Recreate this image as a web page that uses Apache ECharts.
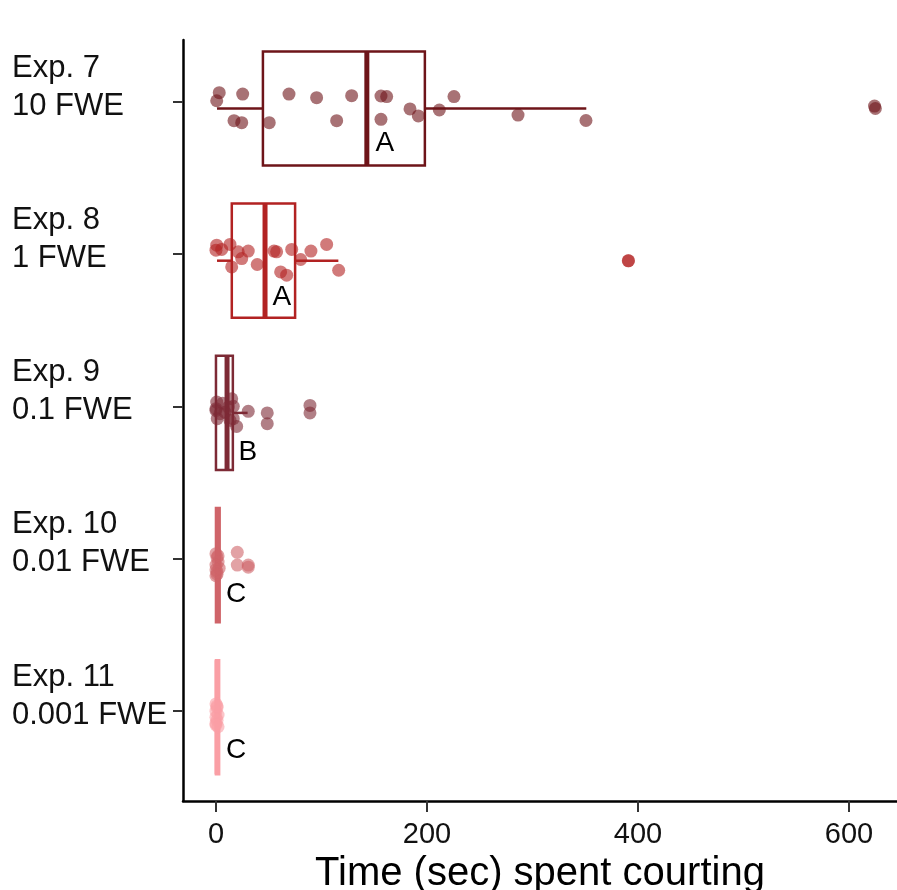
<!DOCTYPE html>
<html>
<head>
<meta charset="utf-8">
<script src="https://cdn.jsdelivr.net/npm/echarts@6/dist/echarts.min.js"></script>
<style>
html,body{margin:0;padding:0;background:#fff;}
#chart{width:897px;height:890px;}
</style>
</head>
<body>
<div id="chart"></div>
<script>
// Categories (top to bottom)
const categories = ['Exp. 7\n10 FWE', 'Exp. 8\n1 FWE', 'Exp. 9\n0.1 FWE', 'Exp. 10\n0.01 FWE', 'Exp. 11\n0.001 FWE'];
const groupColors = ['#6e1419', '#b22222', '#7d2a35', '#cf6469', '#fa9fa5'];

// Box statistics (seconds)
const whiskerLow  = [1, 1, 0, 0, 0];
const quart1      = [44.5, 15, 0, 0, 0];
const medians     = [143, 46.5, 10.5, 1.5, 1];
const quart3      = [198, 75, 16, 3.5, 3];
const whiskerHigh = [351, 116, 30, 3.5, 3];
const outliers    = [[625], [391], [48.6, 89.1], [20.2, 30.6], []];

// Individual observations (time) and their vertical jitter (category units)
const exp7Time   = [3.1, 0.7, 25.3, 17.1, 24.4, 50.5, 69.2, 95.4, 114.4, 128.6, 156.4, 161.8, 156.4, 183.9, 191.8, 211.7, 225.6, 286.3, 350.7, 624.2];
const exp7Jitter = [-0.104, -0.051, -0.095, 0.08, 0.093, 0.093, -0.095, -0.071, 0.08, -0.084, -0.082, -0.078, 0.071, 0.003, 0.049, 0.01, -0.078, 0.043, 0.079, -0.016];
const exp8Time   = [0.7, 0, 5.4, 13.3, 14.9, 21.1, 24.4, 30.6, 39.1, 55, 57.5, 61.3, 67, 71.8, 80.3, 90, 104.9, 116.3, 390.8];
const exp8Jitter = [-0.102, -0.069, -0.074, -0.107, 0.041, -0.058, -0.014, -0.063, 0.025, -0.063, -0.058, 0.074, 0.095, -0.074, -0.008, -0.063, -0.107, 0.063, 0.001];
const exp9Time   = [0.7, 0, 1.2, 6.4, 8.5, 14.9, 16.4, 16.4, 19.6, 30.6, 48.6, 89.1, 0, 3.8, 11.7, 13.3];
const exp9Jitter = [-0.071, -0.016, 0.038, -0.064, -0.005, -0.093, -0.043, 0.038, 0.089, -0.01, 0.071, -0.049, -0.028, 0.005, -0.038, 0.049];
const exp10Time   = [0, 1, 2, 0, 3, 1, 0, 2, 1, 0, 20.2, 30.6];
const exp10Jitter = [-0.075, -0.05, -0.02, 0.0, 0.02, 0.045, 0.07, -0.06, 0.06, 0.03, -0.084, 0.014];
const exp11Time   = [0, 1, 0, 2, 0, 1, 0, 2, 1, 0];
const exp11Jitter = [-0.088, -0.065, -0.04, -0.015, 0.0, 0.02, 0.04, 0.062, -0.075, 0.05];

// Significance letters and their placement (data coordinates)
const letters = ['A', 'A', 'B', 'C', 'C'];
const letterX = [160, 62.5, 30.3, 19, 19];
const letterY = [1.227, 2.243, 3.26, 4.194, 5.22];

// Tick marks and tick-label anchors
const xTicks = [0, 200, 400, 600];
const yTicks = [0.957, 1.957, 2.957, 3.957, 4.957];
const yLabelAnchors = [0.86, 1.86, 2.86, 3.86, 4.86];

const timeSets = [exp7Time, exp8Time, exp9Time, exp10Time, exp11Time];
const jitterSets = [exp7Jitter, exp8Jitter, exp9Jitter, exp10Jitter, exp11Jitter];

const chart = echarts.init(document.getElementById('chart'), null, {renderer: 'canvas'});

const boxData = categories.map((c, i) => [i + 1, whiskerLow[i], quart1[i], medians[i], quart3[i], whiskerHigh[i]]);

const series = [];
series.push({
  type: 'custom',
  z: 2,
  silent: true,
  data: boxData,
  encode: {x: [1, 2, 3, 4, 5], y: 0},
  renderItem: function (params, api) {
    const cat = api.value(0);
    const idx = cat - 1;
    const col = groupColors[idx];
    const yc = api.coord([0, cat])[1];
    const half = api.size([0, 0.75])[1] / 2;
    const px = v => api.coord([v, cat])[0];
    const xl = px(api.value(1)), x1 = px(api.value(2)), xm = px(api.value(3)), x3 = px(api.value(4)), xh = px(api.value(5));
    return {
      type: 'group',
      children: [
        {type: 'line', shape: {x1: xl, y1: yc, x2: x1, y2: yc}, style: {stroke: col, lineWidth: 2.5}},
        {type: 'line', shape: {x1: x3, y1: yc, x2: xh, y2: yc}, style: {stroke: col, lineWidth: 2.5}},
        {type: 'rect', shape: {x: x1, y: yc - half, width: x3 - x1, height: 2 * half}, style: {stroke: col, fill: 'rgba(255,255,255,0)', lineWidth: 2.5}},
        {type: 'line', shape: {x1: xm, y1: yc - half, x2: xm, y2: yc + half}, style: {stroke: col, lineWidth: 5}}
      ]
    };
  }
});

// Boxplot outliers (at category centre)
categories.forEach((c, i) => {
  series.push({
    type: 'scatter',
    z: 3,
    silent: true,
    symbolSize: 13,
    itemStyle: {color: groupColors[i], opacity: 0.6},
    data: outliers[i].map(v => [v, i + 1])
  });
});

// Jittered observations
categories.forEach((c, i) => {
  series.push({
    type: 'scatter',
    z: 4,
    silent: true,
    symbolSize: 13,
    itemStyle: {color: groupColors[i], opacity: 0.6},
    data: timeSets[i].map((v, k) => [v, i + 1 + jitterSets[i][k]])
  });
});

// Letters
series.push({
  type: 'custom',
  z: 5,
  silent: true,
  data: letters.map((l, i) => [letterX[i], letterY[i], l]),
  encode: {x: 0, y: 1},
  renderItem: function (params, api) {
    const p = api.coord([api.value(0), api.value(1)]);
    return {
      type: 'text',
      x: p[0], y: p[1],
      style: {text: letters[params.dataIndex], fill: '#000', font: '28px "Liberation Sans", Arial, sans-serif', textAlign: 'center', textVerticalAlign: 'middle'}
    };
  }
});

chart.setOption({
  animation: false,
  backgroundColor: '#fff',
  grid: {left: 183, right: 0, top: 40, bottom: 89, containLabel: false, outerBoundsMode: 'none'},
  xAxis: {
    type: 'value',
    min: -31.25,
    max: 645.5,
    name: 'Time (sec) spent courting',
    nameLocation: 'middle',
    nameGap: 53,
    nameTextStyle: {fontSize: 40, color: '#000', fontFamily: 'Liberation Sans'},
    axisLine: {show: true, onZero: false, lineStyle: {color: '#000', width: 2.5}},
    axisTick: {show: true, length: 11, customValues: xTicks, lineStyle: {color: '#333', width: 2}},
    axisLabel: {customValues: xTicks, fontSize: 29, color: '#111', margin: 19, fontFamily: 'Liberation Sans'},
    splitLine: {show: false}
  },
  yAxis: {
    type: 'value',
    inverse: true,
    min: 0.55,
    max: 5.55,
    axisLine: {show: true, onZero: false, lineStyle: {color: '#000', width: 2.5}},
    axisTick: {show: true, length: 10, customValues: yTicks, lineStyle: {color: '#333', width: 2}},
    axisLabel: {
      customValues: yLabelAnchors,
      formatter: v => categories[Math.round(v) - 1],
      align: 'left',
      margin: 171,
      fontSize: 31,
      lineHeight: 38,
      color: '#111',
      fontFamily: 'Liberation Sans',
      verticalAlign: 'middle'
    },
    splitLine: {show: false}
  },
  series: series
});
</script>
</body>
</html>
